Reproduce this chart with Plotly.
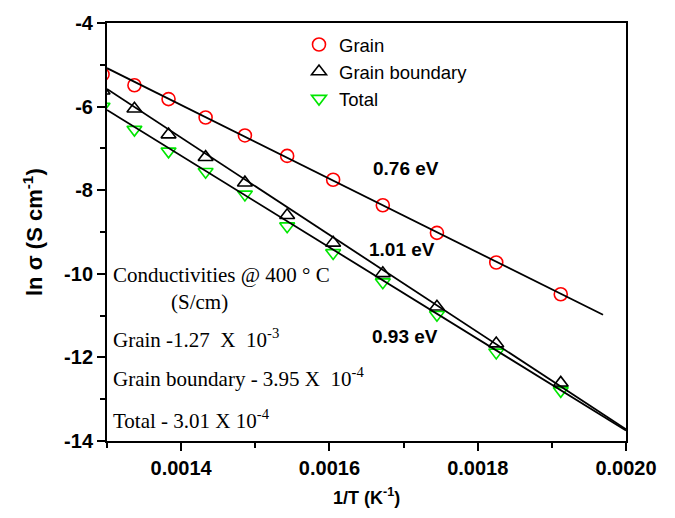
import plotly.graph_objects as go

# ---- data ----
inv_T = [0.001294, 0.001337, 0.001383, 0.001433, 0.001486, 0.001543,
         0.001605, 0.001672, 0.001745, 0.001825, 0.001912]
grain = [-5.23, -5.49, -5.82, -6.26, -6.69, -7.18, -7.75, -8.36, -9.02, -9.73, -10.49]
grain_boundary = [-5.62, -6.05, -6.67, -7.21, -7.82, -8.60, -9.26, -9.99, -10.79, -11.67, -12.61]
total = [-6.00, -6.55, -7.07, -7.56, -8.10, -8.86, -9.50, -10.20, -10.98, -11.88, -12.80]

grain_fit_x = [0.0013, 0.001969]
grain_fit_y = [-5.08, -10.98]
gb_fit_x = [0.0013, 0.0020]
gb_fit_y = [-5.58, -13.72]
total_fit_x = [0.0013, 0.0020]
total_fit_y = [-6.08, -13.75]

x_tickvals = [0.0014, 0.0016, 0.0018, 0.0020]
x_ticktext = ["0.0014", "0.0016", "0.0018", "0.0020"]
y_tickvals = [-14, -12, -10, -8, -6, -4]
y_ticktext = ["-14", "-12", "-10", "-8", "-6", "-4"]

# ---- layout geometry (pixels) ----
W, H = 675, 518
L, R, T, B = 107, 626, 17, 441


def px(x):
    return (x - L) / (R - L)


def py(y):
    return 1 - (y - T) / (B - T)


SANS = "Liberation Sans, Arial, sans-serif"
SERIF = "Liberation Serif, Times New Roman, serif"
GREEN = "#00e600"

fig = go.Figure()

fig.add_trace(go.Scatter(x=inv_T, y=grain, mode="markers", name="Grain",
                         marker=dict(symbol="circle-open", size=13, color="#ff0000",
                                     line=dict(width=1.6, color="#ff0000"))))
fig.add_trace(go.Scatter(x=inv_T, y=grain_boundary, mode="markers", name="Grain boundary",
                         marker=dict(symbol="triangle-up-open", size=13, color="#000000",
                                     line=dict(width=1.6, color="#000000"))))
fig.add_trace(go.Scatter(x=inv_T, y=total, mode="markers", name="Total",
                         marker=dict(symbol="triangle-down-open", size=13, color=GREEN,
                                     line=dict(width=1.6, color=GREEN))))

for fx, fy in [(grain_fit_x, grain_fit_y), (gb_fit_x, gb_fit_y), (total_fit_x, total_fit_y)]:
    fig.add_trace(go.Scatter(x=fx, y=fy, mode="lines", showlegend=False,
                             line=dict(color="black", width=1.8), hoverinfo="skip"))

axis_common = dict(showgrid=False, zeroline=False, showline=True, linecolor="black",
                   linewidth=2, mirror=True, ticks="outside", ticklen=8, tickwidth=2,
                   tickcolor="black",
                   tickfont=dict(family=SANS, size=20, color="black", weight="bold"))

fig.update_xaxes(range=[0.0013, 0.0020], tickvals=x_tickvals, ticktext=x_ticktext,
                 minor=dict(dtick=0.0001, tick0=0.0013, ticks="outside", ticklen=5,
                            tickwidth=2, tickcolor="black"),
                 **axis_common)
fig.update_yaxes(range=[-14, -4], tickvals=y_tickvals, ticktext=y_ticktext,
                 minor=dict(dtick=1, tick0=-14, ticks="outside", ticklen=5,
                            tickwidth=2, tickcolor="black"),
                 **axis_common)

ann = []
ann.append(dict(text="ln σ (S cm<sup>-1</sup>)", x=px(33), y=py(229), textangle=-90,
                font=dict(family=SANS, size=22, color="black", weight="bold")))
ann.append(dict(text="1/T (K<sup>-1</sup>)", x=px(366), y=py(497),
                font=dict(family=SANS, size=18, color="black", weight="bold")))
for txt, cx, cy in [("0.76 eV", 406, 165), ("1.01 eV", 402, 247), ("0.93 eV", 405, 335)]:
    ann.append(dict(text=txt, x=px(cx), y=py(cy),
                    font=dict(family=SANS, size=19, color="black", weight="bold")))
ann.append(dict(text="Conductivities @ 400 ° C", x=px(111), y=py(273), xanchor="left",
                font=dict(family=SERIF, size=21, color="black")))
ann.append(dict(text="(S/cm)", x=px(199), y=py(300),
                font=dict(family=SERIF, size=21, color="black")))
for txt, cy in [("Grain -1.27  X  10<sup>-3</sup>", 337),
                ("Grain boundary - 3.95 X  10<sup>-4</sup>", 377),
                ("Total - 3.01 X 10<sup>-4</sup>", 419)]:
    ann.append(dict(text=txt, x=px(111), y=py(cy), xanchor="left",
                    font=dict(family=SERIF, size=21, color="black")))
for a in ann:
    a.update(xref="paper", yref="paper", showarrow=False)
    a.setdefault("xanchor", "center")
    a.setdefault("yanchor", "middle")

fig.update_layout(
    width=W, height=H,
    margin=dict(l=L, r=W - R, t=T, b=H - B, pad=0),
    paper_bgcolor="white", plot_bgcolor="white",
    annotations=ann,
    legend=dict(x=px(299), y=py(20), xanchor="left", yanchor="top",
                bgcolor="rgba(0,0,0,0)", borderwidth=0, tracegroupgap=0,
                font=dict(family=SANS, size=18.5, color="black")),
)

fig.write_html("out.html")
